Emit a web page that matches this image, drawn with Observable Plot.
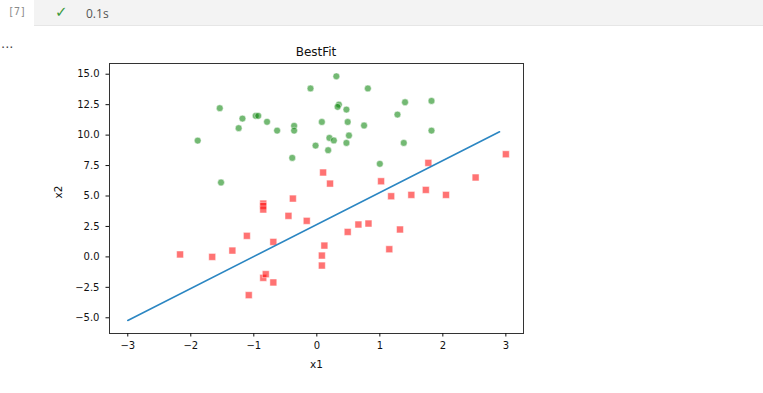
<!DOCTYPE html>
<html>
<head>
<meta charset="utf-8">
<script src="https://cdn.jsdelivr.net/npm/d3@7"></script>
<script src="https://cdn.jsdelivr.net/npm/@observablehq/plot@0.6"></script>
<style>
  html, body { margin: 0; padding: 0; background: #fff; width: 763px; height: 393px; overflow: hidden; }
  body { position: relative; font-family: "DejaVu Sans", sans-serif; }
  #cellhead { position: absolute; left: 34px; top: 0; width: 740px; height: 25px; background: #f3f3f3; border-bottom: 1px solid #e6e6e6; }
  #exec { position: absolute; left: 8px; top: 6px; font-family: "DejaVu Sans Mono", monospace; font-size: 10px; color: #8a8a8a; }
  #check { position: absolute; left: 55px; top: 3px; font-size: 15px; color: #3c9a3c; font-family: "DejaVu Sans", sans-serif; }
  #time { position: absolute; left: 86px; top: 5px; font-size: 12px; color: #555; font-family: "Open Sans", "DejaVu Sans", sans-serif; }
  #dots { position: absolute; left: 1px; top: 36px; font-size: 13px; color: #444; letter-spacing: 0px; }
  #title { position: absolute; left: 0; width: 632px; text-align: center; top: 45px; font-size: 12px; color: #111; }
  #chart { position: absolute; left: 0; top: 0; }
</style>
</head>
<body>
<div id="chart"></div>
<div id="cellhead"></div>
<div id="exec">[7]</div>
<div id="check">✓</div>
<div id="time">0.1s</div>
<div id="dots">...</div>
<div id="title">BestFit</div>
<script>
// Class 1 (green circles)
const greenX1 = [-1.54, -1.89, -1.52, -1.18, -1.24, -0.97, -0.93, -0.79, -0.63, -0.36, -0.36, -0.39, -0.10, -0.02,
                 0.31, 0.81, 0.35, 0.33, 0.47, 0.08, 0.49, 0.75, 1.28, 1.40, 1.82, 1.82, 1.38, 0.51, 0.20, 0.27, 0.47, 0.18, 1.00];
const greenX2 = [12.21, 9.55, 6.11, 11.36, 10.57, 11.58, 11.58, 11.09, 10.37, 10.76, 10.37, 8.13, 13.83, 9.14,
                 14.83, 13.83, 12.51, 12.32, 12.10, 11.08, 11.08, 10.79, 11.69, 12.70, 12.81, 10.37, 9.36, 9.97, 9.77, 9.56, 9.36, 8.76, 7.64];
// Class 0 (red squares)
const redX1 = [-2.17, -1.66, -1.34, -1.11, -1.08, -0.85, -0.85, -0.85, -0.85, -0.81, -0.69, -0.69, -0.45, -0.38, -0.16,
               0.10, 0.21, 0.12, 0.08, 0.08, 0.49, 0.66, 0.82, 1.02, 1.18, 1.15, 1.32, 1.50, 1.73, 1.77, 2.05, 2.52, 3.00];
const redX2 = [0.20, 0.00, 0.52, 1.73, -3.14, 4.38, 4.19, 3.89, -1.72, -1.42, 1.23, -2.10, 3.37, 4.79, 2.96,
               6.93, 6.02, 0.93, 0.11, -0.71, 2.05, 2.66, 2.74, 6.21, 4.98, 0.63, 2.25, 5.09, 5.50, 7.72, 5.09, 6.52, 8.43];
// Best-fit boundary line
const lineX1 = [-3.0, 2.9];
const lineX2 = [-5.22, 10.27];
// Tick values
const xTicks = [-3, -2, -1, 0, 1, 2, 3];
const yTicks = [-5, -2.5, 0, 2.5, 5, 7.5, 10, 12.5, 15];

const green = greenX1.map((x, i) => ({x, y: greenX2[i]}));
const red = redX1.map((x, i) => ({x, y: redX2[i]}));
const line = lineX1.map((x, i) => ({x, y: lineX2[i]}));

const fmtY = d3.format(".1f");
const plot = Plot.plot({
  width: 763,
  height: 393,
  marginLeft: 109,
  marginRight: 240,
  marginTop: 63,
  marginBottom: 60,
  style: {fontFamily: "DejaVu Sans, sans-serif", fontSize: "10px", color: "#111", background: "transparent"},
  x: {domain: [-3.29, 3.28]},
  y: {domain: [-6.29, 15.88]},
  marks: [
    Plot.dot(green, {x: "x", y: "y", r: 3.4, fill: "#008000", fillOpacity: 0.55, stroke: "white", strokeOpacity: 0.6, strokeWidth: 0.8}),
    Plot.dot(red, {x: "x", y: "y", r: 3.9, symbol: "square", fill: "#ff0000", fillOpacity: 0.55, stroke: "white", strokeOpacity: 0.6, strokeWidth: 0.8}),
    Plot.line(line, {x: "x", y: "y", stroke: "#2b86c2", strokeWidth: 1.6}),
    Plot.frame({stroke: "#333", strokeWidth: 1}),
    Plot.axisX({ticks: xTicks, tickSize: 3.5, tickPadding: 5, label: null, tickFormat: d3.format("d"), fontSize: 10}),
    Plot.axisY({ticks: yTicks, tickSize: 3.5, tickPadding: 6.5, label: null, tickFormat: fmtY, fontSize: 10}),
    Plot.text(["x1"], {frameAnchor: "bottom", dy: 34, text: d => d, fontSize: 10.5, fill: "#111"}),
    Plot.text(["x2"], {frameAnchor: "left", dx: -51, rotate: -90, text: d => d, fontSize: 10.5, fill: "#111"})
  ]
});
document.getElementById("chart").appendChild(plot);
</script>
</body>
</html>
